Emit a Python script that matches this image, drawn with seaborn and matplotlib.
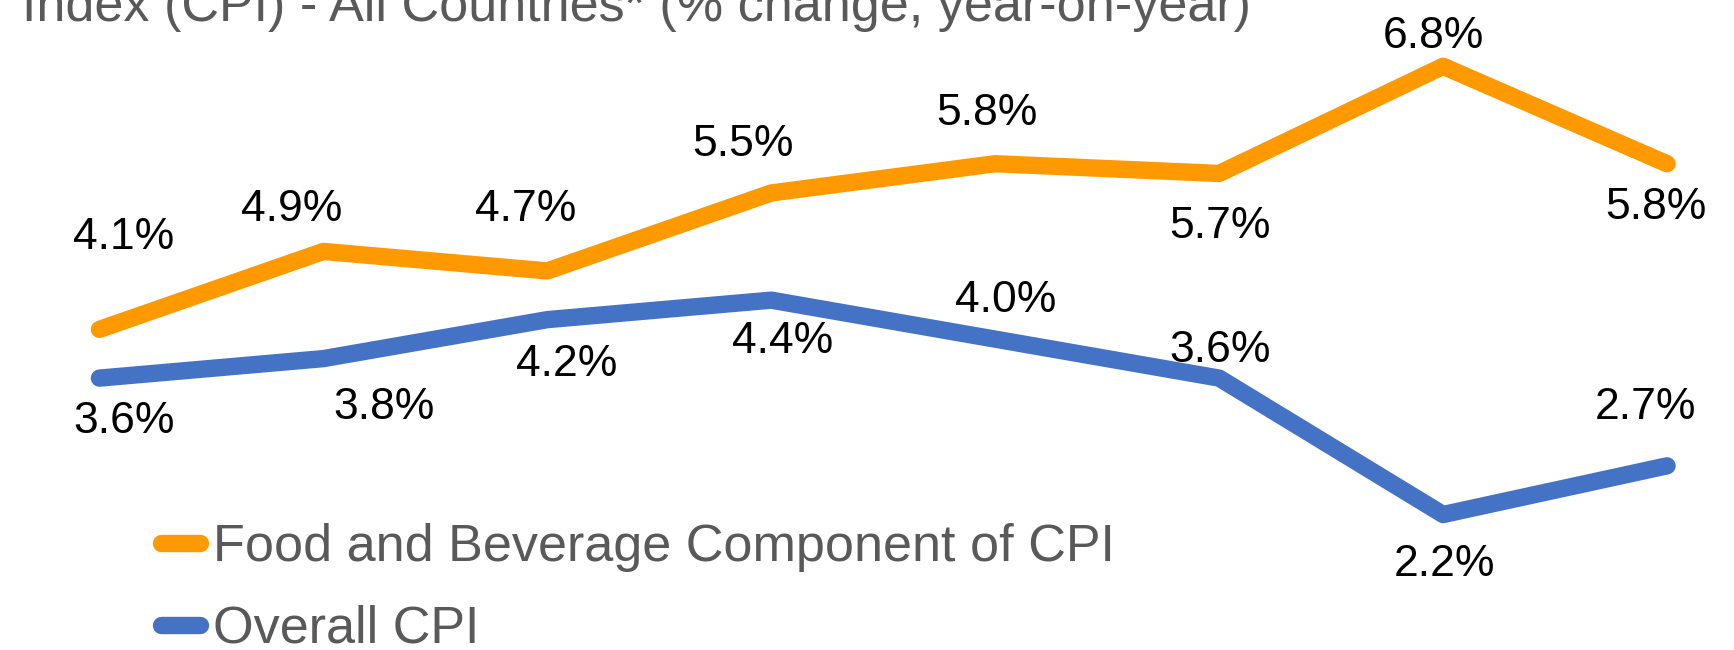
import numpy as np
import pandas as pd
import matplotlib
matplotlib.use("Agg")
import matplotlib.pyplot as plt
import seaborn as sns

# Data
periods = [1, 2, 3, 4, 5, 6, 7, 8]
food_cpi = [4.1, 4.9, 4.7, 5.5, 5.8, 5.7, 6.8, 5.8]
overall_cpi = [3.6, 3.8, 4.2, 4.4, 4.0, 3.6, 2.2, 2.7]
series_names = ["Food and Beverage Component of CPI", "Overall CPI"]
title_line = "Index (CPI) - All Countries* (% change, year-on-year)"

# label offsets (pixels, relative to the point) - layout only
food_offsets = [(24, 92), (-32, 42), (-22, 61), (-28, 48), (-8, 50), (1, -53), (-10, 30), (-11, -44)]
overall_offsets = [(25, -43), (61, -49), (19, -45), (11, -41), (10, 39), (1, 28), (1, -50), (-22, 58)]

COLORS = ["#FF9900", "#4472C4"]
GRAY = "#595959"

df = pd.DataFrame({
    "period": periods * 2,
    "value": food_cpi + overall_cpi,
    "series": [series_names[0]] * len(periods) + [series_names[1]] * len(periods),
})

sns.set_style("white")
plt.rcParams["font.family"] = ["Liberation Sans", "DejaVu Sans"]

fig = plt.figure(figsize=(17.34, 6.5), dpi=100)
ax = fig.add_axes([0, 0, 1, 1])

sns.lineplot(data=df, x="period", y="value", hue="series", hue_order=series_names,
             palette=COLORS, linewidth=12.5, solid_capstyle="round", legend=False, ax=ax)

# data labels
for vals, offs in [(food_cpi, food_offsets), (overall_cpi, overall_offsets)]:
    for x, v, (dx, dy) in zip(periods, vals, offs):
        ax.annotate(f"{v:.1f}%", (x, v), xytext=(dx, dy), textcoords="offset pixels",
                    ha="center", va="center", fontsize=32, color="black")

ax.set_xlim(periods[0] - 0.444, periods[-1] + 0.299)
ax.set_ylim(0.81, 7.48)
ax.axis("off")

leg = ax.legend(handles=ax.lines[:2], labels=series_names, loc="upper left",
                bbox_to_anchor=(161 / 1734, 1 - 523 / 650), bbox_transform=fig.transFigure,
                frameon=False, fontsize=37.5, handlelength=0.75, handletextpad=0.25,
                labelspacing=0.63, borderpad=0, borderaxespad=0)
for t in leg.get_texts():
    t.set_color(GRAY)

fig.text(22 / 1734, 1 - 21 / 650, title_line, fontsize=37.5, color=GRAY,
         ha="left", va="baseline")

fig.savefig("out.png", dpi=100)
